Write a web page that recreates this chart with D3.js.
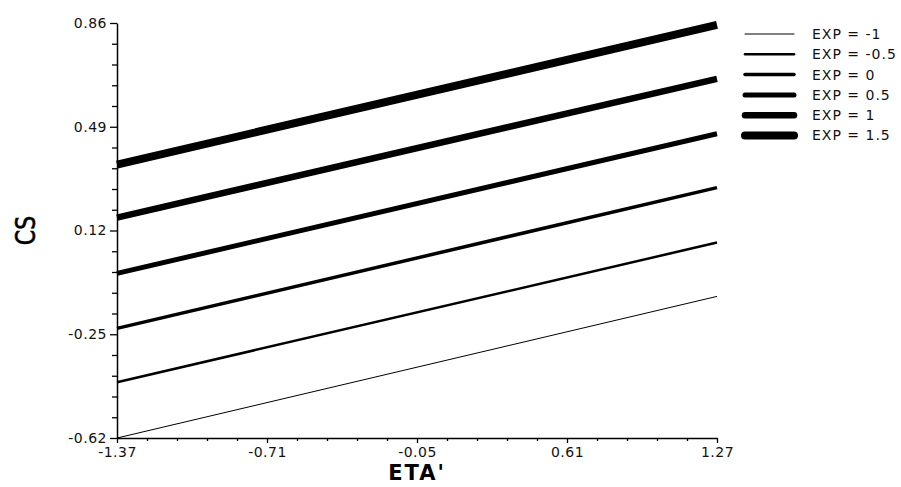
<!DOCTYPE html>
<html>
<head>
<meta charset="utf-8">
<script src="https://cdn.jsdelivr.net/npm/d3@7"></script>
<style>
  body { margin: 0; background: #fff; }
  text { font-family: "DejaVu Sans", sans-serif; }
</style>
</head>
<body>
<div id="chart"></div>
<script>
const xTicks = [-1.37, -0.71, -0.05, 0.61, 1.27];
const yTicks = [-0.62, -0.25, 0.12, 0.49, 0.86];
const seriesNames = ["EXP = -1", "EXP = -0.5", "EXP = 0", "EXP = 0.5", "EXP = 1", "EXP = 1.5"];
const startValues = [-0.62, -0.421, -0.229, -0.033, 0.166, 0.355];
const endValues = [-0.115, 0.077, 0.273, 0.465, 0.661, 0.853];
const strokeWidths = [1, 2.5, 3.5, 5, 6.5, 8];

const width = 901, height = 487;
const margin = { left: 117, right: 184, top: 23, bottom: 49 };

const svg = d3.select("#chart").append("svg")
  .attr("width", width)
  .attr("height", height);

const x = d3.scaleLinear().domain([-1.37, 1.27]).range([margin.left, width - margin.right]);
const y = d3.scaleLinear().domain([-0.62, 0.86]).range([height - margin.bottom, margin.top]);

const fmt = d => d.toFixed(2);

// minor ticks: 5 subdivisions between majors
const minor = (ticks) => {
  const out = [];
  for (let i = 0; i < ticks.length - 1; i++) {
    const step = (ticks[i + 1] - ticks[i]) / 5;
    for (let j = 1; j < 5; j++) out.push(ticks[i] + step * j);
  }
  return out;
};

const xAxis = svg.append("g")
  .attr("transform", `translate(0,${y(-0.62)})`)
  .call(d3.axisBottom(x).tickValues(xTicks).tickFormat(fmt).tickSize(5).tickSizeOuter(0));
svg.append("g")
  .attr("transform", `translate(0,${y(-0.62)})`)
  .call(d3.axisBottom(x).tickValues(minor(xTicks)).tickFormat("").tickSize(3).tickSizeOuter(0))
  .select(".domain").remove();

const yAxis = svg.append("g")
  .attr("transform", `translate(${x(-1.37)},0)`)
  .call(d3.axisLeft(y).tickValues(yTicks).tickFormat(fmt).tickSize(7).tickSizeOuter(0));
svg.append("g")
  .attr("transform", `translate(${x(-1.37)},0)`)
  .call(d3.axisLeft(y).tickValues(minor(yTicks)).tickFormat("").tickSize(5).tickSizeOuter(0))
  .select(".domain").remove();

svg.selectAll(".domain").attr("stroke", "#000").attr("stroke-width", 1.5);
svg.selectAll(".tick line").attr("stroke", "#000").attr("stroke-width", 1.3);
svg.selectAll(".tick text")
  .attr("font-size", 14)
  .attr("fill", "#111")
  .attr("letter-spacing", 0.5)
  .attr("font-family", "'DejaVu Sans', sans-serif");
xAxis.selectAll(".tick text").attr("dy", "0.8em");
yAxis.selectAll(".tick text").attr("x", -10);

// series lines
const line = d3.line().x(d => x(d[0])).y(d => y(d[1]));
seriesNames.forEach((name, i) => {
  svg.append("path")
    .datum([[-1.37, startValues[i]], [1.27, endValues[i]]])
    .attr("fill", "none")
    .attr("stroke", "#000")
    .attr("stroke-width", strokeWidths[i])
    .attr("d", line);
});

// legend
const legend = svg.append("g").attr("transform", "translate(745,34)");
seriesNames.forEach((name, i) => {
  const g = legend.append("g").attr("transform", `translate(0,${i * 20.3})`);
  g.append("line")
    .attr("x1", 0).attr("x2", 49)
    .attr("stroke", "#000")
    .attr("stroke-width", strokeWidths[i])
    .attr("stroke-linecap", "round");
  g.append("text")
    .attr("x", 67).attr("y", 0).attr("dy", "0.35em")
    .attr("font-size", 14)
    .attr("letter-spacing", 1)
    .attr("fill", "#111")
    .text(name);
});

// axis titles
svg.append("text")
  .attr("x", x(-0.05)).attr("y", 480)
  .attr("text-anchor", "middle")
  .attr("font-size", 21)
  .attr("font-weight", "bold")
  .attr("letter-spacing", 2)
  .text("ETA'");

svg.append("text")
  .attr("transform", `translate(35,${y(0.12)}) rotate(-90) scale(0.85,1)`)
  .attr("text-anchor", "middle")
  .attr("font-family", "'Liberation Sans', Arial, sans-serif")
  .attr("font-size", 26)
  .attr("stroke", "#000")
  .attr("stroke-width", 0.6)
  .text("CS");
</script>
</body>
</html>
